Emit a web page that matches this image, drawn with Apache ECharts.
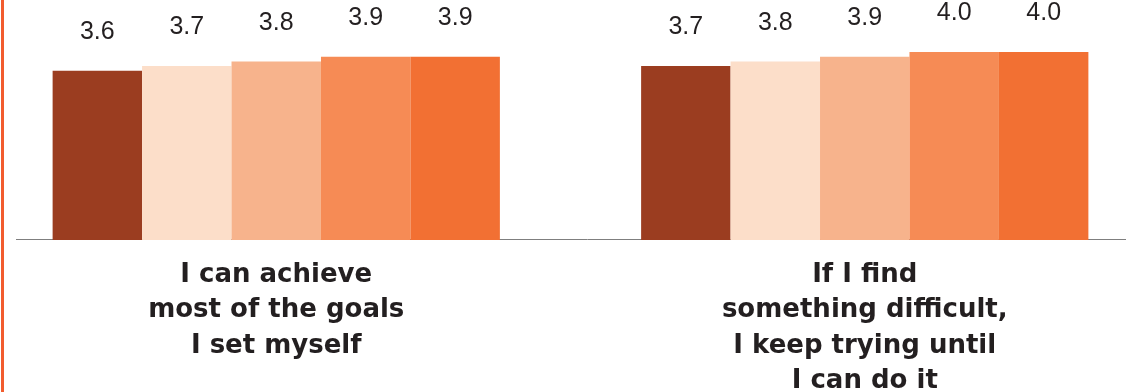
<!DOCTYPE html>
<html>
<head>
<meta charset="utf-8">
<script src="https://cdn.jsdelivr.net/npm/echarts@6/dist/echarts.min.js"></script>
<style>
  html, body { margin: 0; padding: 0; background: #ffffff; overflow: hidden; }
  #wrap { position: relative; width: 1126px; height: 392px; overflow: hidden; }
  /* the plot is a little wider than the page so the two groups sit wide apart */
  #chart { position: absolute; left: -18px; top: 0; width: 1177px; height: 392px; }
  #accent { position: absolute; left: 1px; top: 0; width: 2.5px; height: 392px; background: #F25C2E; }
</style>
</head>
<body>
<div id="wrap">
  <div id="chart"></div>
  <div id="accent"></div>
</div>
<script>
// Statements shown along the category axis
const categories = [
  'I can achieve\nmost of the goals\nI set myself',
  'If I find\nsomething difficult,\nI keep trying until\nI can do it'
];

// Average score per group, one array per statement order above
const seriesNames = ['Group 1', 'Group 2', 'Group 3', 'Group 4', 'Group 5'];
const group1 = [3.6, 3.7];
const group2 = [3.7, 3.8];
const group3 = [3.8, 3.9];
const group4 = [3.9, 4.0];
const group5 = [3.9, 4.0];
const seriesValues = [group1, group2, group3, group4, group5];

const barColors = ['#9B3D20', '#FCDEC9', '#F7B38C', '#F68B55', '#F27033'];

const chart = echarts.init(document.getElementById('chart'), null, { renderer: 'canvas' });

const option = {
  animation: false,
  backgroundColor: '#ffffff',
  grid: {
    left: 0, right: 0, top: 5, bottom: 152,
    containLabel: false,
    outerBoundsMode: 'none'
  },
  xAxis: {
    type: 'category',
    data: categories,
    axisLine: { show: false },
    axisTick: { show: false },
    axisLabel: {
      interval: 0,
      margin: 17,
      color: '#231F20',
      fontFamily: 'DejaVu Sans',
      fontWeight: 'bold',
      fontSize: 26,
      lineHeight: 35.5,
      align: 'center'
    }
  },
  yAxis: {
    type: 'value',
    min: 0,
    max: 5,
    show: false,
    splitLine: { show: false }
  },
  series: seriesValues.map((vals, i) => ({
    name: seriesNames[i],
    type: 'bar',
    data: vals,
    barGap: '0%',
    barCategoryGap: '24%',
    itemStyle: { color: barColors[i] },
    z: 3,
    label: {
      show: true,
      position: 'top',
      distance: 26,
      color: '#231F20',
      fontFamily: 'Liberation Sans',
      fontSize: 25,
      formatter: p => p.value.toFixed(1)
    }
  })),
  graphic: [
    // baseline under the bars
    {
      type: 'line',
      z: 1,
      shape: { x1: 34, y1: 239.5, x2: 1177, y2: 239.5 },
      style: { stroke: '#7F7F7F', lineWidth: 1 }
    }
  ]
};

chart.setOption(option);
</script>
</body>
</html>
